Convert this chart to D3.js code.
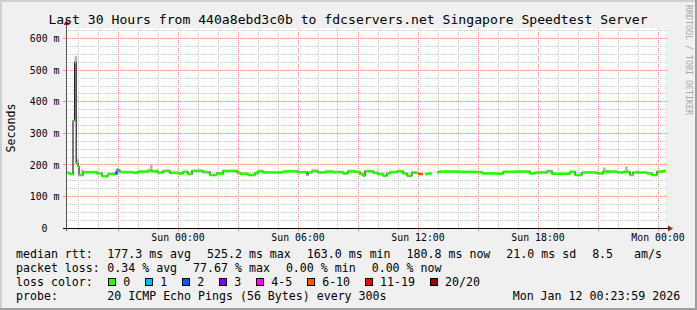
<!DOCTYPE html>
<html><head><meta charset="utf-8">
<script src="https://cdn.jsdelivr.net/npm/d3@7"></script>
<style>html,body{margin:0;padding:0;background:#f0f0f0;overflow:hidden}text{font-family:"DejaVu Sans Mono",monospace;}</style>
</head><body><svg id="c" width="697" height="310"></svg>
<script>
const titleText = "Last 30 Hours from 440a8ebd3c0b to fdcservers.net Singapore Speedtest Server";
const yLabel = "Seconds";
const watermark = "RRDTOOL / TOBI OETIKER";
const yTicks = [0, 100, 200, 300, 400, 500, 600];
const startTime = new Date(2026, 0, 10, 18, 24);
const endTime = new Date(2026, 0, 12, 0, 24);
// median rtt steps: hours since start, value in ms (null = no data)
const medianHours = [0.00,0.20,0.35,0.43,0.51,0.60,0.65,0.85,1.55,1.80,2.10,2.45,2.55,2.70,3.35,3.60,4.10,4.25,4.55,4.85,5.20,5.60,5.85,6.10,6.30,6.85,7.20,7.55,7.85,8.55,8.70,9.10,9.45,9.60,9.85,10.80,10.95,11.60,12.05,12.10,12.30,12.60,12.95,13.35,13.85,14.10,14.45,14.70,14.85,14.95,15.35,15.60,15.85,16.05,16.20,16.55,16.85,17.05,17.30,17.45,17.60,17.85,17.95,18.10,18.30,18.55,18.70,19.70,20.55,20.80,21.60,21.85,22.45,23.20,23.45,24.05,24.30,25.20,25.45,25.80,26.55,26.85,27.55,27.85,28.20,28.35,29.05,29.30,29.55,29.85];
const medianMs    = [175,171,340,525,205,195,168,177,173,164,171,174,183,177,175,179,183,180,176,181,175,173,178,171,181,177,168,173,181,176,172,168,174,180,176,178,180,177,168,176,181,176,179,177,173,180,178,171,166,180,175,171,166,173,177,180,173,166,176,175,171,null,171,173,null,177,179,178,177,173,172,178,179,173,176,180,172,178,168,176,173,179,176,178,168,176,173,168,179,181];
// smoke (spread of pings): hours since start, low ms, high ms
const smokeHours = [0.43,0.51,0.75,2.50,4.20,4.50,26.85,27.95];
const smokeLow   = [525,200,177,168,180,178,180,178];
const smokeHigh  = [545,218,185,190,203,185,192,195];
// steps with packet loss: hours since start, index into loss legend
const lossHours = [2.45, 2.55, 17.60];
const lossLevel = [2, 1, 5];
const lossLabels = ["0","1","2","3","4-5","6-10","11-19","20/20"];
const lossColors = ["#26ff00","#00b8ff","#0059ff","#7e00ff","#ff00ff","#ff5500","#ff0000","#a10000"];
const statsRtt = ["177.3 ms avg","525.2 ms max","163.0 ms min","180.8 ms now","21.0 ms sd","8.5   am/s"];
const statsLoss = ["0.34 % avg","77.67 % max","0.00 % min","0.00 % now"];
const probeText = "20 ICMP Echo Pings (56 Bytes) every 300s";
const stampText = "Mon Jan 12 00:23:59 2026";

const W = 697, H = 310;
const L = 66, R = 666, T = 28, B = 228;
const svg = d3.select("#c");
const HOUR = 3600e3;
const tAt = h => new Date(startTime.getTime() + h * HOUR);

const x = d3.scaleTime().domain([startTime, endTime]).range([L, R]);
const y = d3.scaleLinear().domain([0, 634]).range([B, T]);
const px = v => Math.floor(v) + 0.5;

// background & 3D border
svg.append("rect").attr("width", W).attr("height", H).attr("fill", "#f0f0f0");
svg.append("path").attr("d", `M0,0H${W}V2H2V${H}H0Z`).attr("fill", "#cfcfcf");
svg.append("path").attr("d", `M${W},${H}H0V${H-2}H${W-2}V0H${W}Z`).attr("fill", "#9e9e9e");
svg.append("rect").attr("x", L).attr("y", T).attr("width", R - L).attr("height", B - T).attr("fill", "#ffffff");

// grid
const g = svg.append("g").attr("shape-rendering", "crispEdges");
const hours = d3.timeHour.every(1).range(startTime, endTime);
hours.forEach(t => {
  const major = t.getHours() % 3 === 0;
  g.append("line").attr("x1", px(x(t))).attr("x2", px(x(t))).attr("y1", T).attr("y2", B)
    .attr("stroke", major ? "#ff8a8a" : "#c4c4c4").attr("stroke-dasharray", "1,1");
  g.append("line").attr("x1", px(x(t))).attr("x2", px(x(t))).attr("y1", B).attr("y2", B + (major ? 3 : 2))
    .attr("stroke", major ? "#ff8a8a" : "#c4c4c4");
});
d3.range(25, 634, 25).forEach(v => {
  const major = v % 100 === 0;
  g.append("line").attr("x1", L).attr("x2", R + 2).attr("y1", px(y(v))).attr("y2", px(y(v)))
    .attr("stroke", major ? "#ff8a8a" : "#c4c4c4").attr("stroke-dasharray", "1,1");
  if (major) g.append("line").attr("x1", L - 3).attr("x2", L).attr("y1", px(y(v))).attr("y2", px(y(v))).attr("stroke", "#ff8a8a");
});

// data
const pts = medianHours.map((h, i) => ({t: tAt(h), h, v: medianMs[i]}));
const ends = pts.map((p, i) => i + 1 < pts.length ? pts[i + 1].t : endTime);

// smoke
smokeHours.forEach((h, i) => {
  const x0 = x(tAt(h)), x1 = x(tAt(h + 1 / 12)) + 1;
  svg.append("rect").attr("x", x0).attr("width", x1 - x0)
    .attr("y", y(smokeHigh[i])).attr("height", y(smokeLow[i]) - y(smokeHigh[i]))
    .attr("fill", "#b8b8b8");
});

// black median step line
const lineGen = d3.line().defined(d => d.v != null).x(d => x(d.t)).y(d => y(d.v)).curve(d3.curveStepAfter);
const linePts = pts.concat([{t: endTime, v: medianMs[medianMs.length - 1]}]);
svg.append("path").datum(linePts).attr("d", lineGen).attr("fill", "none")
  .attr("stroke", "#202020").attr("stroke-width", 1.2);

// loss-coloured median segments
pts.forEach((p, i) => {
  if (p.v == null) return;
  const li = lossHours.indexOf(p.h);
  const col = li >= 0 ? lossColors[lossLevel[li]] : lossColors[0];
  svg.append("line").attr("x1", x(p.t)).attr("x2", x(ends[i]))
    .attr("y1", y(p.v)).attr("y2", y(p.v)).attr("stroke", col).attr("stroke-width", 2.6);
});

// axes
svg.append("line").attr("x1", L - 3).attr("x2", R + 3).attr("y1", B + 0.5).attr("y2", B + 0.5)
  .attr("stroke", "#000").attr("shape-rendering", "crispEdges");
svg.append("line").attr("x1", L + 0.5).attr("x2", L + 0.5).attr("y1", B + 3).attr("y2", T - 4)
  .attr("stroke", "#555").attr("shape-rendering", "crispEdges");
svg.append("path").attr("d", `M${R + 2},${B - 2.5}L${R + 7},${B + 0.5}L${R + 2},${B + 3.5}Z`).attr("fill", "#9b1c1c");
svg.append("path").attr("d", `M${L - 2.5},${T - 3}L${L + 0.5},${T - 8}L${L + 3.5},${T - 3}Z`).attr("fill", "#9b1c1c");

// tick labels
const fmt = d3.timeFormat("%a %H:%M");
hours.filter(t => t.getHours() % 6 === 0).forEach(t => {
  svg.append("text").attr("x", x(t)).attr("y", 240.5).attr("text-anchor", "middle")
    .attr("font-size", "9.85px").attr("fill", "#000").text(fmt(t));
});
yTicks.forEach(v => {
  svg.append("text").attr("x", v === 0 ? 47.5 : 59.5).attr("y", y(v) + 3.6).attr("text-anchor", "end")
    .attr("font-size", "9.85px").attr("fill", "#000").text(v === 0 ? "0" : v + " m");
});

// title, y label, watermark
svg.append("text").attr("x", 348).attr("y", 23.5).attr("text-anchor", "middle")
  .attr("font-size", "13.1px").attr("fill", "#000").text(titleText);
svg.append("text").attr("transform", "translate(14.5,128) rotate(-90)").attr("text-anchor", "middle")
  .attr("font-size", "11.6px").attr("fill", "#000").text(yLabel);
svg.append("text").attr("transform", "translate(686,5) rotate(90)").attr("text-anchor", "start")
  .attr("font-size", "8.3px").attr("fill", "#a8a8a8").text(watermark);

// legend
const CW = 6.98, FS = "11.6px";
function t(xp, yp, s) {
  svg.append("text").attr("x", xp).attr("y", yp).attr("font-size", FS).attr("fill", "#000")
    .attr("xml:space", "preserve").style("white-space", "pre").text(s);
}
t(16, 258, "median rtt:");
let cx = 107.3;
statsRtt.forEach(s => { t(cx, 258, s); cx += s.length * CW + 16; });
t(16, 272, "packet loss:");
cx = 107.3;
statsLoss.forEach(s => { t(cx, 272, s); cx += s.length * CW + 16; });
t(16, 286, "loss color:");
cx = 108.3;
lossLabels.forEach((s, i) => {
  svg.append("rect").attr("x", cx + 0.5).attr("y", 278.5).attr("width", 7).attr("height", 7)
    .attr("fill", lossColors[i]).attr("stroke", "#000").attr("shape-rendering", "crispEdges");
  t(cx + 15, 286, s);
  cx += 15 + s.length * CW + 15;
});
t(16, 300, "probe:");
t(107.3, 300, probeText);
t(512.7, 300, stampText);
</script></body></html>
